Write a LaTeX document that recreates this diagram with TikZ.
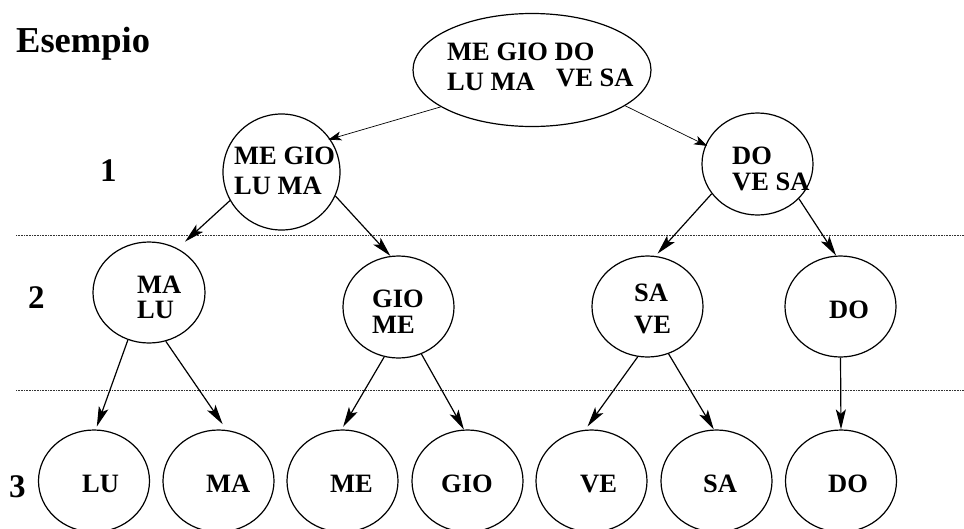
\documentclass[tikz,border=0pt]{standalone}
\usepackage{fontspec}
\setmainfont{Liberation Serif}
\usetikzlibrary{shapes.geometric,arrows.meta}
\tikzset{
  bubble/.style={ellipse,draw,line width=1.2pt,inner sep=0pt,minimum width=111pt,minimum height=102pt},
  txt/.style={anchor=base west,inner sep=0pt,font=\fontsize{26.5}{30}\selectfont\bfseries},
  lvl/.style={anchor=base west,inner sep=0pt,font=\fontsize{33}{36}\selectfont\bfseries},
  arr/.style={line width=1.2pt,-{Stealth[length=20pt,width=10pt,inset=4.5pt]}},
  thinarr/.style={line width=0.7pt,-{Stealth[length=13pt,width=9pt,inset=3.5pt]}},
  sep/.style={line width=0.6pt,dash pattern=on 0.8pt off 0.8pt,black!80}
}
\begin{document}
\begin{tikzpicture}[x=1pt,y=-1pt]
\useasboundingbox (0,0) rectangle (964,528);
% separators
\draw[sep] (16,235) -- (964,235);
\draw[sep] (16,390) -- (964,390);
% shapes
\node[bubble,minimum width=238pt,minimum height=113pt] (top) at (532,70) {};
\node[bubble,minimum width=117pt,minimum height=116pt] (megio) at (281.5,172) {};
\node[bubble] (dovesa) at (757.5,164) {};
\node[bubble,minimum width=112pt,minimum height=101pt] (malu) at (149,292.5) {};
\node[bubble] (giome) at (398.5,307) {};
\node[bubble,minimum height=101pt] (save) at (647.5,306.5) {};
\node[bubble,minimum height=101pt] (dotwo) at (840.5,306.5) {};
\node[bubble] (lu) at (94,481) {};
\node[bubble] (ma) at (218.5,481) {};
\node[bubble] (me) at (342.5,481) {};
\node[bubble] (gio) at (467.5,481) {};
\node[bubble] (ve) at (591.5,481) {};
\node[bubble] (sa) at (716.5,481) {};
\node[bubble] (dothree) at (841,481) {};
% texts
\node[lvl,font=\fontsize{36.5}{40}\selectfont\bfseries] (title) at (16,52) {Esempio};
\node[lvl] (l1) at (100,181) {1};
\node[lvl] (l2) at (28,308) {2};
\node[lvl] (l3) at (9,497) {3};
\node[txt] (t1) at (447,60) {ME GIO DO};
\node[txt] (t2) at (447,90) {LU MA};
\node[txt] (t3) at (556,86) {VE SA};
\node[txt] (t4) at (234,164) {ME GIO};
\node[txt] (t5) at (234,194) {LU MA};
\node[txt] (t6) at (732,164) {DO};
\node[txt] (t7) at (732,190) {VE SA};
\node[txt] (t8) at (137,293) {MA};
\node[txt] (t9) at (137,318) {LU};
\node[txt] (t10) at (372,307) {GIO};
\node[txt] (t11) at (372,333) {ME};
\node[txt] (t12) at (634,301) {SA};
\node[txt] (t13) at (634,333) {VE};
\node[txt] (t14) at (829,318) {DO};
\node[txt] (b1) at (82,492) {LU};
\node[txt] (b2) at (206,492) {MA};
\node[txt] (b3) at (330,492) {ME};
\node[txt] (b4) at (441,492) {GIO};
\node[txt] (b5) at (580,492) {VE};
\node[txt] (b6) at (703,492) {SA};
\node[txt] (b7) at (828,492) {DO};
% arrows
\draw[thinarr,shorten >=-2pt] (top.202.6) -- (megio.34);
\draw[thinarr,shorten >=-2pt] (top.339.6) -- (dovesa.160.4);
\draw[arr,shorten >=10pt] (megio.209.5) -- (malu.57.6);
\draw[arr] (megio.336) -- (giome.99.6);
\draw[arr,shorten >=3pt] (dovesa.213.4) -- (save.81.5);
\draw[arr] (dovesa.320.5) -- (dotwo.95);
\draw[arr,shorten >=3pt] (malu.246) -- (lu.88);
\draw[arr,shorten >=7pt] (malu.289.2) -- (ma.81.6);
\draw[arr,shorten >=3pt] (giome.254.7) -- (me.91);
\draw[arr] (giome.296.1) -- (gio.94);
\draw[arr,shorten >=4pt] (save.259.5) -- (ve.97.3);
\draw[arr] (save.294.9) -- (sa.93);
\draw[arr] (dotwo.270) -- (dothree.90);
\end{tikzpicture}
\end{document}
